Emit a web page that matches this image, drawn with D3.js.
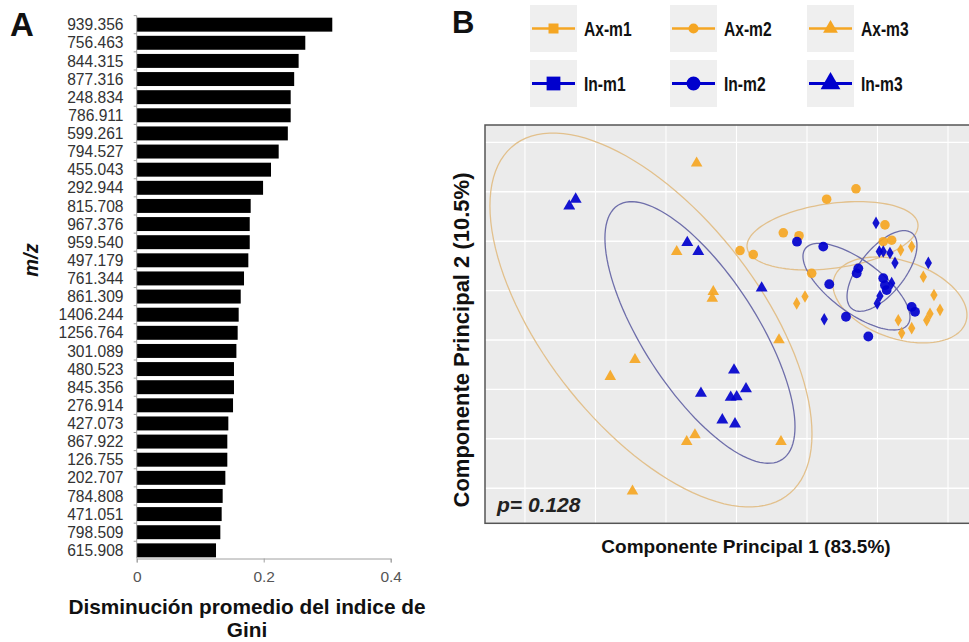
<!DOCTYPE html>
<html><head><meta charset="utf-8">
<script src="https://cdn.jsdelivr.net/npm/d3@7"></script>
<style>
body{margin:0;background:#fff;}
svg{display:block;font-family:"Liberation Sans",Arial,sans-serif;}
</style></head>
<body>
<svg id="chart" width="969" height="642"></svg>
<script>
// ---------- Panel A data ----------
const mzLabels = ["939.356","756.463","844.315","877.316","248.834","786.911","599.261","794.527","455.043","292.944",
  "815.708","967.376","959.540","497.179","761.344","861.309","1406.244","1256.764","301.089","480.523",
  "845.356","276.914","427.073","867.922","126.755","202.707","784.808","471.051","798.509","615.908"];
const giniValues = [0.308,0.2655,0.255,0.248,0.2425,0.2425,0.238,0.2236,0.2115,0.199,
  0.1795,0.178,0.178,0.1758,0.169,0.1638,0.1606,0.159,0.157,0.1532,
  0.1532,0.1517,0.1443,0.1427,0.1427,0.1396,0.1354,0.1338,0.1317,0.1249];
const giniTicks = [0, 0.2, 0.4];

// ---------- Panel B data (PCA scores) ----------
const groups = ["Ax-m1","Ax-m2","Ax-m3","In-m1","In-m2","In-m3"];
const axm1 = [[0.854,0.74],[0.972,0.88],[2.329,1.82],[2.485,1.89],[2.650,1.28],[2.801,0.91],
  [2.887,0.61],[2.745,0.53],[2.698,0.40],[2.485,0.24],[2.295,0.40],[2.343,0.14]];
const axm2 = [[0.050,1.81],[0.238,1.73],[0.664,2.17],[1.279,2.85],[1.695,3.06],[1.067,1.35],
  [2.106,2.33],[2.082,1.99],[2.201,2.02],[0.887,2.11]];
const axm3 = [[-0.565,3.58],[-0.848,1.79],[-0.329,0.98],[-0.343,0.84],[0.603,0.00],[-1.44,-0.40],
  [-1.79,-0.74],[-0.706,-2.06],[-0.589,-1.92],[0.631,-2.06],[-1.475,-3.06]];
const inm1 = [[1.979,2.37],[2.026,1.79],[2.082,1.79],[2.177,1.76],[2.248,1.56],[2.721,1.56],
  [2.201,1.15],[2.035,0.89],[1.997,0.74],[1.245,0.42]];
const inm2 = [[0.858,1.99],[1.231,1.89],[1.316,1.13],[1.728,1.45],[1.705,1.35],[1.553,0.47],
  [1.870,0.07],[2.485,0.67],[2.532,0.57],[2.082,1.25],[2.106,1.11],[2.130,1.01]];
const inm3 = [[-2.372,2.71],[-2.281,2.85],[-0.698,1.97],[-0.542,1.79],[0.357,1.05],[-0.035,-0.61],
  [0.135,-0.99],[-0.504,-1.08],[-0.082,-1.16],[0.003,-1.15],[-0.201,-1.62],[-0.021,-1.70]];
// confidence ellipses: [centerX, centerY, halfExtentX, halfExtentY, correlation]
const ellAxm1 = [2.319,0.810,0.950,0.870,-0.35];
const ellAxm2 = [1.362,2.109,1.213,0.692,0.30];
const ellAxm3 = [-1.213,0.405,2.284,3.785,-0.61];
const ellInm1 = [2.064,1.397,0.496,0.816,0.63];
const ellInm2 = [1.702,1.079,0.759,0.877,-0.70];
const ellInm3 = [-0.518,0.152,1.348,2.648,-0.72];
const pc1Ticks = [-3,-2,-1,0,1,2,3];
const pc2Ticks = [-3,-2,-1,0,1,2,3,4];
const pcDomainX = [-3.567, 3.298];
const pcDomainY = [-3.711, 4.352];

const svg = d3.select("#chart");
const FONT = '"Liberation Sans",Arial,sans-serif';

// ================= PANEL A =================
const A = {left:136.7, right:390.7, top:15.6, bottom:559.4};
const xA = d3.scaleLinear().domain([0,0.4]).range([A.left, A.right]);
const yA = d3.scaleBand().domain(mzLabels).range([A.top, A.bottom]).paddingInner(0.23).paddingOuter(0.115);

svg.append("text").attr("x",10).attr("y",36).attr("font-size",33).attr("font-weight","bold")
  .attr("fill","#111").text("A");

const gA = svg.append("g");
gA.selectAll("rect.bar").data(mzLabels).join("rect").attr("class","bar")
  .attr("x", xA(0)).attr("y", d=>yA(d)).attr("height", yA.bandwidth())
  .attr("width", (d,i)=>xA(giniValues[i])-xA(0)).attr("fill","#000");
gA.append("line").attr("x1",xA(0)).attr("x2",xA(0)).attr("y1",A.top).attr("y2",558.5)
  .attr("stroke","#a0a0a0").attr("stroke-width",1);
const step = yA.step();
gA.selectAll("line.yt").data(mzLabels).join("line").attr("class","yt")
  .attr("x1",xA(0)-3).attr("x2",xA(0))
  .attr("y1",d=>yA(d)-step*yA.paddingInner()/2).attr("y2",d=>yA(d)-step*yA.paddingInner()/2)
  .attr("stroke","#a0a0a0");
gA.selectAll("text.lab").data(mzLabels).join("text").attr("class","lab")
  .attr("x",123.5).attr("y",d=>yA(d)+yA.bandwidth()/2).attr("dy","0.36em")
  .attr("text-anchor","end").attr("font-size",15.6).attr("fill","#333").text(d=>d);
const axA = gA.append("g").attr("transform","translate(0,558.5)")
  .call(d3.axisBottom(xA).tickValues(giniTicks).tickSize(4).tickFormat(d=>d===0?"0":d3.format(".1f")(d)));
axA.select(".domain").attr("stroke","#a0a0a0");
axA.selectAll(".tick line").attr("stroke","#a0a0a0");
axA.selectAll(".tick text").attr("font-size",15.5).attr("fill","#555").attr("font-family",FONT).attr("dy","1.05em");

svg.append("text").attr("transform","translate(38,260) rotate(-90)").attr("text-anchor","middle")
  .attr("font-size",20).attr("font-weight","bold").attr("font-style","italic").attr("fill","#111").text("m/z");
svg.append("text").attr("x",247).attr("y",614).attr("text-anchor","middle").attr("font-size",20.8)
  .attr("font-weight","bold").attr("fill","#111").text("Disminución promedio del indice de");
svg.append("text").attr("x",247).attr("y",637).attr("text-anchor","middle").attr("font-size",20.8)
  .attr("font-weight","bold").attr("fill","#111").text("Gini");

// ================= PANEL B =================
const P = {left:485, right:969, top:125, bottom:523.3};
const xB = d3.scaleLinear().domain(pcDomainX).range([P.left, P.right]);
const yB = d3.scaleLinear().domain(pcDomainY).range([P.bottom, P.top]);

svg.append("text").attr("x",452).attr("y",33).attr("font-size",31).attr("font-weight","bold")
  .attr("fill","#111").text("B");

const ORANGE = "#F5A623", BLUE = "#0000CD";
const ELL_OR = "#E2C08C", ELL_BL = "#6E6EAA";
const groupPts = [axm1, axm2, axm3, inm1, inm2, inm3];
const groupEll = [ellAxm1, ellAxm2, ellAxm3, ellInm1, ellInm2, ellInm3];
const groupCol = [ORANGE, ORANGE, ORANGE, BLUE, BLUE, BLUE];
const groupEllCol = [ELL_OR, ELL_OR, ELL_OR, ELL_BL, ELL_BL, ELL_BL];
const scatterSym = [d3.symbolDiamond, d3.symbolCircle, d3.symbolTriangle, d3.symbolDiamond, d3.symbolCircle, d3.symbolTriangle];
const scatterSize = [46, 72, 58, 46, 76, 62];
const legendSym = [d3.symbolSquare, d3.symbolCircle, d3.symbolTriangle, d3.symbolSquare, d3.symbolCircle, d3.symbolTriangle];
const legendSize = [100, 80, 95, 190, 150, 170];

const gB = svg.append("g");
const clip = svg.append("defs").append("clipPath").attr("id","pclip");
clip.append("rect").attr("x",P.left).attr("y",P.top).attr("width",P.right-P.left).attr("height",P.bottom-P.top);

gB.append("rect").attr("x",P.left).attr("y",P.top).attr("width",P.right-P.left+3).attr("height",P.bottom-P.top)
  .attr("fill","#EBEBEB");
gB.selectAll("line.gx").data(pc1Ticks).join("line").attr("class","gx")
  .attr("x1",d=>xB(d)).attr("x2",d=>xB(d)).attr("y1",P.top).attr("y2",P.bottom)
  .attr("stroke","#fff").attr("stroke-width",1.1);
gB.selectAll("line.gy").data(pc2Ticks).join("line").attr("class","gy")
  .attr("y1",d=>yB(d)).attr("y2",d=>yB(d)).attr("x1",P.left).attr("x2",P.right)
  .attr("stroke","#fff").attr("stroke-width",1.4);

const plot = gB.append("g").attr("clip-path","url(#pclip)");
const angles = d3.range(0, 361, 3).map(a=>a*Math.PI/180);
const ellLine = d3.line().x(p=>xB(p[0])).y(p=>yB(p[1])).curve(d3.curveLinearClosed);
groupEll.forEach((e,i)=>{
  const [cx,cy,hx,hy,r] = e;
  const pts = angles.map(t=>[cx+hx*Math.cos(t), cy+hy*(r*Math.cos(t)+Math.sqrt(1-r*r)*Math.sin(t))]);
  plot.append("path").attr("d",ellLine(pts)).attr("fill","none")
    .attr("stroke",groupEllCol[i]).attr("stroke-width",1.3);
});
groupPts.forEach((pts,i)=>{
  plot.selectAll(null).data(pts).join("path")
    .attr("transform",d=>`translate(${xB(d[0])},${yB(d[1])})`)
    .attr("d",d3.symbol().type(scatterSym[i]).size(scatterSize[i])())
    .attr("fill",groupCol[i]).attr("fill-opacity",0.92);
});
gB.append("rect").attr("x",P.left).attr("y",P.top).attr("width",P.right-P.left+3).attr("height",P.bottom-P.top)
  .attr("fill","none").attr("stroke","#555").attr("stroke-width",1.5);

svg.append("text").attr("x",497).attr("y",512).attr("font-size",21).attr("font-weight","bold")
  .attr("font-style","italic").attr("fill","#222").text("p= 0.128");

svg.append("text").attr("x",746).attr("y",553).attr("text-anchor","middle").attr("font-size",19)
  .attr("font-weight","bold").attr("fill","#111").text("Componente Principal 1 (83.5%)");
svg.append("text").attr("transform","translate(461,340) rotate(-90)").attr("dy","0.36em")
  .attr("text-anchor","middle").attr("font-size",22).attr("font-weight","bold").attr("fill","#111")
  .text("Componente Principal 2 (10.5%)");

// legend
const legColX = [530, 670, 807];
const legRowY = [5, 60];
groups.forEach((g,i)=>{
  const col = i%3, row = Math.floor(i/3);
  const bx = legColX[col], by = legRowY[row];
  const lg = svg.append("g").attr("transform",`translate(${bx},${by})`);
  lg.append("rect").attr("width",47).attr("height",47).attr("fill","#EFEFEF");
  lg.append("line").attr("x1",2).attr("x2",45).attr("y1",23.5).attr("y2",23.5)
    .attr("stroke",groupCol[i]).attr("stroke-width",row===0?2.5:3);
  lg.append("path").attr("transform","translate(23.5,23.5)")
    .attr("d",d3.symbol().type(legendSym[i]).size(legendSize[i])()).attr("fill",groupCol[i]);
  lg.append("text").attr("transform","translate(54,23.5) scale(0.8,1)").attr("dy","0.36em")
    .attr("font-size",19.5).attr("font-weight","bold").attr("fill","#111").text(g);
});
</script>
</body></html>
